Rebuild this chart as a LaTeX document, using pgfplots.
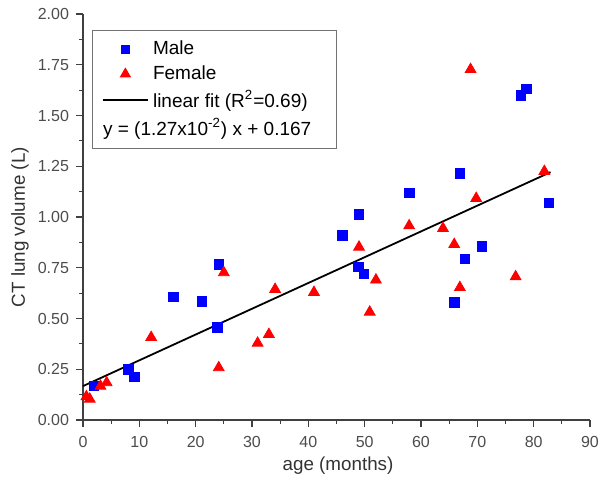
\documentclass[border=0pt]{standalone}
\usepackage{fontspec}
\setmainfont{Liberation Sans}
\usepackage{pgfplots}
\pgfplotsset{compat=1.18}
\definecolor{maleblue}{RGB}{0,0,255}
\definecolor{femred}{RGB}{255,0,0}

\begin{document}
\begin{tikzpicture}
  \path[use as bounding box] (-41.5pt,-31pt) rectangle (258.5pt,210pt);
  \begin{axis}[
    scale only axis,
    width=253.5pt, height=203pt,
    xmin=0, xmax=90, ymin=0, ymax=2,
    axis lines=left,
    axis line style={-, black!75, line width=0.7pt},
    xtick={0,10,...,90},
    ytick={0,0.25,...,2},
    minor x tick num=1,
    minor y tick num=1,
    tick align=outside,
    major tick length=3.5pt,
    minor tick length=2pt,
    tick style={black!75, line width=0.6pt},
    /pgf/number format/assume math mode=true,
    yticklabel style={/pgf/number format/.cd, fixed, fixed zerofill, precision=2},
    tick label style={font=\fontsize{8}{9}\selectfont, text=black!70},
    xticklabel style={yshift=-1pt},
    xlabel={age (months)},
    ylabel={CT lung volume (L)},
    label style={font=\fontsize{9.4}{11}\selectfont, text=black!80},
    xlabel style={at={(axis description cs:0.503,-0.113)}, anchor=center},
    ylabel style={at={(axis description cs:-0.124,0.475)}, anchor=center},
    clip=false,
    legend image code/.code={\draw[mark repeat=2,mark phase=2,#1] plot coordinates {(0cm,0cm) (0.4cm,0cm) (0.8cm,0cm)};},
    legend style={at={(axis description cs:0.018,0.96)}, anchor=north west,
      draw=black!55, line width=0.6pt, font=\fontsize{9.5}{11}\selectfont,
      cells={anchor=west}, row sep=0pt, inner xsep=4.5pt, inner ysep=3pt},
  ]
    % Male
    \addplot[only marks, mark=square*, mark size=2.4pt, color=maleblue,
      legend image post style={mark size=2pt}]
      coordinates {
        (1.9,0.167)(8.1,0.250)(9.1,0.213)(16.1,0.607)(21.1,0.585)
        (23.9,0.455)(24.1,0.767)(46.0,0.910)(49.0,1.013)(48.9,0.754)
        (49.9,0.720)(57.9,1.118)(65.9,0.580)(66.9,1.215)(67.8,0.793)
        (70.8,0.854)(82.7,1.069)(77.7,1.600)(78.7,1.632)
      };
    \addlegendentry{Male}
    % Female
    \addplot[only marks, mark=triangle*, mark size=3.1pt, color=femred,
      legend image post style={mark size=2.7pt}]
      coordinates {
        (0.6,0.115)(1.2,0.103)(3.1,0.167)(4.2,0.184)(12.1,0.407)
        (24.1,0.258)(25.0,0.726)(31.0,0.379)(33.0,0.422)(34.1,0.644)
        (41.0,0.629)(49.0,0.852)(50.9,0.532)(52.0,0.690)(57.9,0.957)
        (63.9,0.944)(65.9,0.865)(66.9,0.653)(68.8,1.727)(69.8,1.092)
        (76.8,0.706)(81.9,1.225)
      };
    \addlegendentry{Female}
    % linear fit
    \addplot[black, line width=0.9pt] coordinates {(0,0.167)(83,1.221)};
    \addlegendentry{linear fit (R\textsuperscript{2}=0.69)}
    \addlegendimage{empty legend}
    \addlegendentry{\hspace*{-25pt}y = (1.27x10\textsuperscript{-2}) x + 0.167\hspace*{6pt}}
  \end{axis}
\end{tikzpicture}
\end{document}
